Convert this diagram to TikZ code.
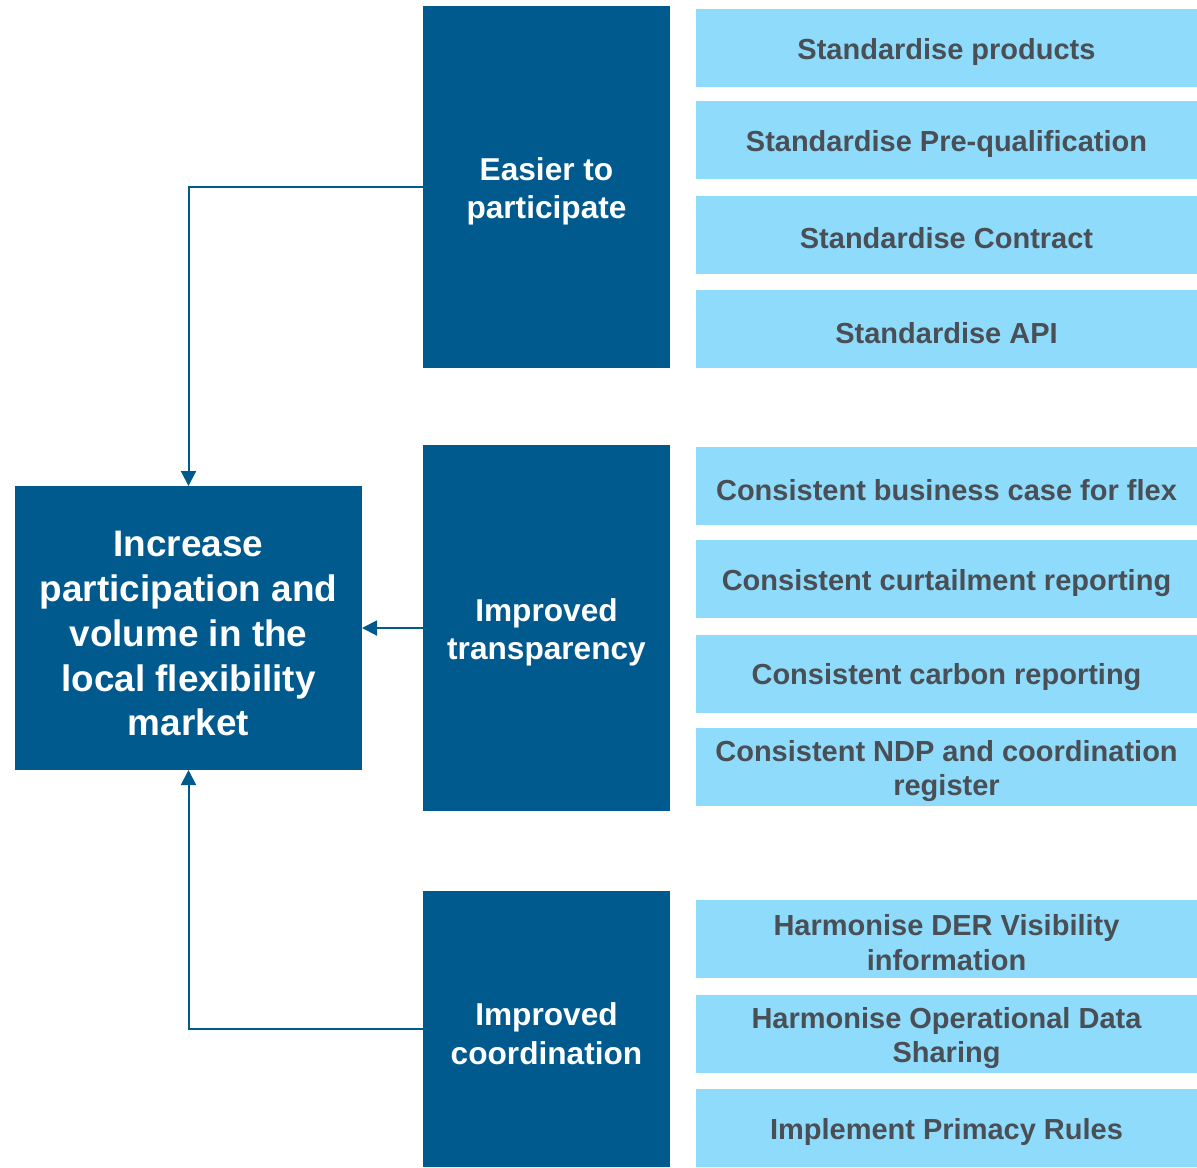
\documentclass[tikz,border=0pt]{standalone}
\usepackage{fontspec}
\setmainfont{Liberation Sans}
\usetikzlibrary{arrows.meta}
\definecolor{darkblue}{HTML}{005A8E}
\definecolor{lightblue}{HTML}{8FDBFC}
\definecolor{textgrey}{HTML}{4A4F55}
\newcommand{\lift}{\rule{0pt}{1em}}
\begin{document}
\begin{tikzpicture}[
    box/.style={rectangle,inner sep=0pt,outer sep=0pt,align=center},
    goal/.style={box,fill=darkblue,text=white,
        minimum width=6.94cm,minimum height=5.68cm,
        font=\fontsize{21}{25.5}\selectfont\bfseries},
    theme/.style={box,fill=darkblue,text=white,minimum width=4.94cm,
        font=\fontsize{18}{22}\selectfont\bfseries},
    action/.style={box,fill=lightblue,text=textgrey,
        minimum width=10.02cm,minimum height=1.56cm,
        font=\fontsize{16.5}{19.8}\selectfont\bfseries},
    arrow/.style={-{Triangle[width=0.3cm,length=0.3cm]},line width=0.04cm,draw=darkblue}
]
\useasboundingbox (0,0) rectangle (23.94,-23.34);

\node[goal] (G) at (3.77,-12.56) {\lift Increase\\participation and\\volume in the\\local flexibility\\market};

\node[theme,minimum height=7.24cm] (D1) at (10.93,-3.74) {\lift Easier to\\participate};
\node[theme,minimum height=7.32cm] (D2) at (10.93,-12.56) {\lift Improved\\transparency};
\node[theme,minimum height=5.52cm] (D3) at (10.93,-20.58) {\lift Improved\\coordination};

\node[action] (L1) at (18.93,-0.96) {\lift Standardise products};
\node[action] (L2) at (18.93,-2.80) {\lift Standardise Pre-qualification};
\node[action] (L3) at (18.93,-4.69) {\lift Standardise Contract};
\node[action] (L4) at (18.93,-6.58) {\lift Standardise API};

\node[action] (L5) at (18.93,-9.72) {\lift Consistent business case for flex};
\node[action] (L6) at (18.93,-11.58) {\lift Consistent curtailment reporting};
\node[action] (L7) at (18.93,-13.47) {\lift Consistent carbon reporting};
\node[action] (L8) at (18.93,-15.34) {\lift Consistent NDP and coordination\\register};

\node[action] (L9) at (18.93,-18.78) {\lift Harmonise DER Visibility\\information};
\node[action] (L10) at (18.93,-20.68) {\lift Harmonise Operational Data\\Sharing};
\node[action] (L11) at (18.93,-22.56) {\lift Implement Primacy Rules};

\draw[arrow] (D1.west) -| (G.north);
\draw[arrow] (D2.west) -- (G.east);
\draw[arrow] (D3.west) -| (G.south);

\end{tikzpicture}
\end{document}
